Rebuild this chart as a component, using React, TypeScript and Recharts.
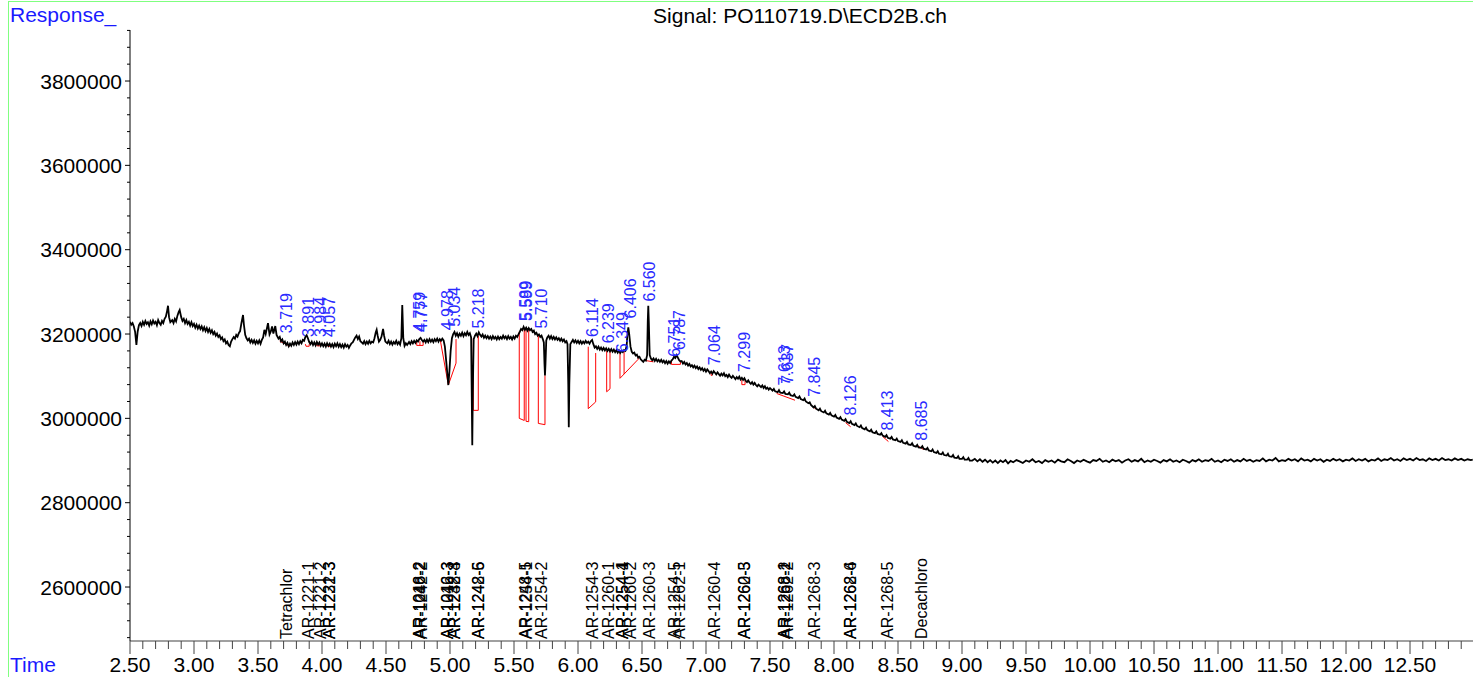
import React from "react";
import { ComposedChart, Line, Scatter, XAxis, YAxis } from "recharts";

const FONT = '"Liberation Sans", Arial, Helvetica, sans-serif';
const W = 1473;
const H = 677;

// axis labels
const timeLabels = [
  "2.50", "3.00", "3.50", "4.00", "4.50", "5.00", "5.50", "6.00", "6.50", "7.00", "7.50",
  "8.00", "8.50", "9.00", "9.50", "10.00", "10.50", "11.00", "11.50", "12.00", "12.50",
];
const responseLabels = [2600000, 2800000, 3000000, 3200000, 3400000, 3600000, 3800000];
const timeDomain: [number, number] = [2.5, 12.992];
const responseDomain: [number, number] = [2472000, 3921000];

// signal trace [min, response]
const traceEarly: [number, number][] = [
  [2.5, 3229000], [2.51, 3222000], [2.52, 3226000], [2.53, 3218000], [2.54, 3205000], [2.55, 3174000],
  [2.56, 3206000], [2.57, 3221000], [2.58, 3226000], [2.59, 3219000], [2.6, 3229000], [2.61, 3222000],
  [2.62, 3231000], [2.63, 3224000], [2.64, 3228000], [2.65, 3220000], [2.66, 3230000], [2.67, 3223000],
  [2.68, 3232000], [2.69, 3225000], [2.7, 3229000], [2.71, 3221000], [2.72, 3233000], [2.73, 3226000],
  [2.74, 3222000], [2.75, 3231000], [2.76, 3226000], [2.77, 3236000], [2.78, 3241000], [2.79, 3255000],
  [2.797, 3267000], [2.805, 3240000], [2.815, 3228000], [2.83, 3233000], [2.84, 3226000], [2.85, 3236000],
  [2.86, 3230000], [2.87, 3243000], [2.88, 3252000], [2.888, 3257000], [2.9, 3240000], [2.91, 3231000],
  [2.92, 3236000], [2.93, 3226000], [2.94, 3233000], [2.95, 3224000], [2.96, 3229000], [2.97, 3220000],
  [2.98, 3228000], [2.99, 3219000], [3.0, 3224000], [3.01, 3215000], [3.02, 3222000], [3.03, 3213000],
  [3.04, 3220000], [3.05, 3212000], [3.06, 3218000], [3.07, 3209000], [3.08, 3216000], [3.09, 3207000],
  [3.1, 3214000], [3.11, 3205000], [3.12, 3212000], [3.13, 3203000], [3.14, 3209000], [3.15, 3200000],
  [3.16, 3205000], [3.17, 3196000], [3.18, 3201000], [3.19, 3193000], [3.2, 3197000], [3.21, 3188000],
  [3.22, 3192000], [3.23, 3183000], [3.24, 3187000], [3.25, 3178000], [3.26, 3182000], [3.27, 3174000],
  [3.28, 3171000], [3.29, 3182000], [3.3, 3188000], [3.31, 3193000], [3.32, 3189000], [3.33, 3198000],
  [3.34, 3194000], [3.35, 3202000], [3.36, 3207000], [3.37, 3225000], [3.383, 3245000], [3.39, 3222000],
  [3.4, 3198000], [3.41, 3190000], [3.42, 3185000], [3.43, 3189000], [3.44, 3180000], [3.45, 3186000],
  [3.46, 3179000], [3.47, 3185000], [3.48, 3177000], [3.49, 3184000], [3.5, 3178000], [3.51, 3185000],
  [3.52, 3177000], [3.53, 3186000], [3.54, 3192000], [3.55, 3210000], [3.56, 3200000], [3.57, 3214000],
  [3.578, 3226000], [3.59, 3199000], [3.6, 3206000], [3.61, 3218000], [3.62, 3201000], [3.635, 3219000],
  [3.645, 3198000], [3.66, 3189000], [3.67, 3193000], [3.68, 3183000], [3.69, 3187000],
];

const traceMid: [number, number][] = [
  [3.7, 3178000], [3.71, 3182000], [3.72, 3174000], [3.73, 3179000], [3.74, 3171000], [3.75, 3177000],
  [3.76, 3172000], [3.77, 3180000], [3.78, 3174000], [3.79, 3181000], [3.8, 3175000], [3.81, 3182000],
  [3.82, 3176000], [3.83, 3183000], [3.84, 3178000], [3.85, 3186000], [3.86, 3184000], [3.87, 3193000],
  [3.88, 3197000], [3.89, 3190000], [3.9, 3181000], [3.91, 3176000], [3.92, 3182000], [3.93, 3174000],
  [3.94, 3180000], [3.95, 3173000], [3.96, 3181000], [3.97, 3175000], [3.98, 3180000], [3.99, 3172000],
  [4.0, 3178000], [4.01, 3171000], [4.02, 3177000], [4.03, 3170000], [4.04, 3178000], [4.05, 3172000],
  [4.06, 3177000], [4.07, 3170000], [4.08, 3176000], [4.09, 3169000], [4.1, 3177000], [4.11, 3171000],
  [4.12, 3178000], [4.13, 3170000], [4.14, 3176000], [4.15, 3169000], [4.16, 3175000], [4.17, 3168000],
  [4.18, 3176000], [4.19, 3170000], [4.2, 3174000], [4.21, 3167000], [4.22, 3173000], [4.23, 3178000],
  [4.24, 3180000], [4.25, 3186000], [4.26, 3192000], [4.27, 3196000], [4.28, 3188000], [4.29, 3194000],
  [4.3, 3183000], [4.31, 3180000], [4.32, 3177000], [4.33, 3183000], [4.34, 3176000], [4.35, 3182000],
  [4.36, 3177000], [4.37, 3184000], [4.38, 3178000], [4.39, 3182000], [4.4, 3180000], [4.41, 3190000],
  [4.42, 3204000], [4.427, 3210000], [4.435, 3196000], [4.445, 3182000], [4.455, 3186000], [4.465, 3194000],
  [4.477, 3212000], [4.485, 3196000], [4.495, 3182000], [4.51, 3178000], [4.52, 3184000], [4.53, 3176000],
  [4.54, 3182000], [4.55, 3175000], [4.56, 3181000], [4.57, 3177000], [4.58, 3184000], [4.59, 3176000],
  [4.6, 3181000], [4.61, 3175000], [4.62, 3190000], [4.627, 3269000], [4.635, 3190000], [4.645, 3172000],
  [4.655, 3178000], [4.665, 3174000], [4.68, 3181000], [4.69, 3176000], [4.7, 3183000], [4.71, 3178000],
  [4.72, 3184000], [4.73, 3179000], [4.74, 3185000], [4.75, 3182000], [4.76, 3188000], [4.77, 3191000],
  [4.78, 3186000], [4.79, 3182000], [4.8, 3186000], [4.81, 3180000], [4.82, 3187000], [4.83, 3181000],
  [4.84, 3188000], [4.85, 3182000], [4.86, 3187000], [4.87, 3181000], [4.88, 3188000], [4.89, 3183000],
  [4.9, 3189000], [4.91, 3182000], [4.92, 3188000], [4.93, 3184000], [4.94, 3189000], [4.95, 3185000],
  [4.96, 3170000], [4.975, 3120000], [4.987, 3079000], [4.995, 3110000],
];

const traceLate: [number, number][] = [
  [5.005, 3160000], [5.015, 3190000], [5.025, 3200000], [5.035, 3205000], [5.045, 3196000], [5.055, 3202000],
  [5.065, 3194000], [5.075, 3201000], [5.085, 3196000], [5.095, 3203000], [5.105, 3195000], [5.115, 3202000],
  [5.125, 3197000], [5.135, 3205000], [5.145, 3198000], [5.155, 3202000], [5.165, 3192000], [5.17, 3050000],
  [5.174, 2936000], [5.178, 3060000], [5.185, 3188000], [5.195, 3196000], [5.205, 3201000], [5.215, 3195000],
  [5.225, 3204000], [5.235, 3198000], [5.245, 3194000], [5.255, 3199000], [5.265, 3191000], [5.275, 3196000],
  [5.285, 3190000], [5.295, 3195000], [5.305, 3189000], [5.315, 3194000], [5.325, 3188000], [5.335, 3195000],
  [5.345, 3189000], [5.355, 3193000], [5.365, 3187000], [5.375, 3194000], [5.385, 3188000], [5.395, 3193000],
  [5.405, 3189000], [5.415, 3196000], [5.425, 3190000], [5.435, 3194000], [5.445, 3188000], [5.455, 3195000],
  [5.465, 3189000], [5.475, 3193000], [5.485, 3187000], [5.495, 3194000], [5.505, 3189000], [5.515, 3196000],
  [5.525, 3193000], [5.535, 3199000], [5.545, 3205000], [5.555, 3212000], [5.565, 3209000], [5.575, 3217000],
  [5.585, 3210000], [5.595, 3215000], [5.605, 3208000], [5.615, 3214000], [5.625, 3209000], [5.635, 3212000],
  [5.645, 3205000], [5.655, 3208000], [5.665, 3200000], [5.675, 3203000], [5.685, 3196000], [5.695, 3199000],
  [5.705, 3193000], [5.715, 3196000], [5.725, 3188000], [5.733, 3180000], [5.738, 3130000], [5.742, 3102000],
  [5.746, 3130000], [5.752, 3185000], [5.76, 3192000], [5.77, 3196000], [5.78, 3189000], [5.79, 3195000],
  [5.8, 3188000], [5.81, 3193000], [5.82, 3187000], [5.83, 3192000], [5.84, 3186000], [5.85, 3190000],
  [5.86, 3184000], [5.87, 3189000], [5.88, 3183000], [5.89, 3187000], [5.9, 3180000], [5.91, 3183000],
  [5.918, 3176000], [5.924, 3080000], [5.928, 2979000], [5.932, 3080000], [5.94, 3176000], [5.95, 3181000],
  [5.96, 3186000], [5.97, 3180000], [5.98, 3185000], [5.99, 3179000], [6.0, 3184000], [6.01, 3178000],
  [6.02, 3183000], [6.03, 3177000], [6.04, 3182000], [6.05, 3178000], [6.06, 3184000], [6.07, 3179000],
  [6.08, 3182000], [6.09, 3177000], [6.1, 3183000], [6.11, 3186000], [6.12, 3176000], [6.13, 3168000],
  [6.14, 3171000], [6.15, 3165000], [6.16, 3170000], [6.17, 3163000], [6.18, 3168000], [6.19, 3162000],
  [6.2, 3167000], [6.21, 3161000], [6.22, 3166000], [6.23, 3160000], [6.24, 3165000], [6.25, 3159000],
  [6.26, 3164000], [6.27, 3158000], [6.28, 3163000], [6.29, 3157000], [6.3, 3162000], [6.31, 3156000],
  [6.32, 3161000], [6.33, 3155000], [6.34, 3160000], [6.35, 3157000], [6.36, 3162000], [6.37, 3160000],
  [6.38, 3172000], [6.385, 3195000], [6.393, 3216000], [6.4, 3200000], [6.41, 3170000], [6.42, 3158000],
  [6.43, 3154000], [6.44, 3156000], [6.45, 3149000], [6.46, 3151000], [6.47, 3144000], [6.48, 3146000],
  [6.49, 3140000], [6.5, 3137000], [6.51, 3134000], [6.52, 3139000], [6.53, 3137000], [6.54, 3150000],
  [6.545, 3230000], [6.549, 3267000], [6.553, 3230000], [6.56, 3150000], [6.57, 3142000], [6.58, 3138000],
  [6.59, 3142000],
];

const traceSlope: [number, number][] = [
  [6.6, 3136000], [6.61, 3141000], [6.62, 3135000], [6.63, 3139000], [6.64, 3134000], [6.65, 3139000],
  [6.66, 3133000], [6.67, 3137000], [6.68, 3131000], [6.69, 3136000], [6.7, 3130000], [6.71, 3135000],
  [6.72, 3131000], [6.73, 3137000], [6.74, 3140000], [6.75, 3146000], [6.76, 3143000], [6.77, 3150000],
  [6.78, 3144000], [6.79, 3138000], [6.8, 3135000], [6.81, 3136000], [6.82, 3130000], [6.83, 3134000],
  [6.84, 3128000], [6.85, 3131000], [6.86, 3125000], [6.87, 3129000], [6.88, 3123000], [6.89, 3126000],
  [6.9, 3121000], [6.91, 3125000], [6.92, 3119000], [6.93, 3123000], [6.94, 3117000], [6.95, 3121000],
  [6.96, 3115000], [6.97, 3119000], [6.98, 3113000], [6.99, 3117000], [7.0, 3111000], [7.01, 3116000],
  [7.02, 3112000], [7.03, 3107000], [7.04, 3111000], [7.05, 3106000], [7.06, 3112000], [7.07, 3108000],
  [7.08, 3104000], [7.09, 3109000], [7.1, 3105000], [7.11, 3101000], [7.12, 3106000], [7.13, 3102000],
  [7.14, 3107000], [7.15, 3100000], [7.16, 3103000], [7.17, 3098000], [7.18, 3104000], [7.19, 3099000],
  [7.2, 3096000], [7.21, 3101000], [7.22, 3097000], [7.23, 3093000], [7.24, 3098000], [7.25, 3094000],
  [7.26, 3099000], [7.27, 3092000], [7.28, 3096000], [7.29, 3091000], [7.3, 3095000], [7.31, 3089000],
  [7.32, 3086000], [7.33, 3090000], [7.34, 3085000], [7.35, 3082000], [7.36, 3086000], [7.37, 3080000],
  [7.38, 3084000], [7.39, 3079000], [7.4, 3076000], [7.41, 3080000], [7.42, 3077000], [7.43, 3074000],
  [7.44, 3078000], [7.45, 3072000], [7.46, 3076000], [7.47, 3070000], [7.48, 3073000], [7.49, 3068000],
  [7.5, 3072000], [7.52, 3066000], [7.53, 3070000], [7.54, 3064000], [7.56, 3062000], [7.57, 3067000],
  [7.58, 3061000], [7.6, 3060000], [7.61, 3064000], [7.62, 3058000], [7.64, 3057000], [7.65, 3061000],
  [7.66, 3055000], [7.68, 3053000], [7.69, 3057000], [7.7, 3051000], [7.72, 3048000], [7.73, 3052000],
  [7.74, 3046000], [7.76, 3043000], [7.77, 3047000], [7.78, 3040000], [7.8, 3036000], [7.81, 3038000],
  [7.82, 3032000], [7.84, 3026000], [7.85, 3029000], [7.86, 3023000], [7.88, 3019000], [7.89, 3023000],
  [7.9, 3017000], [7.92, 3014000], [7.93, 3018000], [7.94, 3012000], [7.96, 3009000], [7.97, 3013000],
  [7.98, 3007000], [8.0, 3004000], [8.01, 3008000], [8.02, 3002000], [8.04, 2999000], [8.05, 3003000],
  [8.06, 2997000], [8.08, 2994000], [8.09, 2998000], [8.1, 2992000], [8.12, 2989000], [8.13, 2993000],
  [8.14, 2987000], [8.16, 2984000], [8.17, 2988000], [8.18, 2982000], [8.2, 2979000], [8.21, 2983000],
  [8.22, 2977000], [8.24, 2974000], [8.25, 2978000], [8.26, 2972000], [8.28, 2969000], [8.29, 2973000],
  [8.3, 2967000], [8.32, 2965000], [8.33, 2969000], [8.34, 2963000], [8.36, 2961000], [8.37, 2965000],
  [8.38, 2959000], [8.4, 2956000], [8.41, 2960000], [8.42, 2954000], [8.44, 2952000], [8.45, 2956000],
  [8.46, 2950000], [8.48, 2948000], [8.49, 2952000], [8.5, 2946000], [8.52, 2944000], [8.53, 2948000],
  [8.54, 2942000], [8.56, 2940000], [8.57, 2944000], [8.58, 2938000], [8.6, 2937000], [8.61, 2941000],
  [8.62, 2935000], [8.64, 2933000], [8.65, 2937000], [8.66, 2931000], [8.68, 2930000], [8.69, 2934000],
  [8.7, 2928000], [8.72, 2926000], [8.73, 2930000], [8.74, 2924000], [8.76, 2922000], [8.77, 2926000],
  [8.78, 2920000], [8.8, 2918000], [8.81, 2922000], [8.82, 2916000], [8.84, 2915000], [8.85, 2919000],
  [8.86, 2913000], [8.88, 2912000], [8.89, 2916000], [8.9, 2910000], [8.92, 2909000], [8.93, 2913000],
  [8.94, 2907000], [8.96, 2906000], [8.97, 2910000], [8.98, 2904000], [9.0, 2904000], [9.01, 2908000],
  [9.02, 2902000], [9.04, 2902000], [9.05, 2906000], [9.06, 2900000], [9.08, 2900000], [9.1, 2904000],
  [9.12, 2898000], [9.14, 2903000], [9.16, 2897000], [9.18, 2902000], [9.2, 2896000], [9.22, 2901000],
  [9.24, 2895000], [9.26, 2900000], [9.28, 2894000], [9.3, 2900000], [9.32, 2896000], [9.34, 2901000],
  [9.36, 2893000], [9.38, 2899000],
];

const traceTail: [number, number][] = [
  [9.4, 2896000], [9.425, 2901000], [9.45, 2898000], [9.475, 2894000], [9.5, 2900000], [9.525, 2897000],
  [9.55, 2903000], [9.575, 2896000], [9.6, 2899000], [9.625, 2894000], [9.65, 2901000], [9.675, 2897000],
  [9.7, 2900000], [9.725, 2895000], [9.75, 2902000], [9.775, 2898000], [9.8, 2896000], [9.825, 2903000],
  [9.85, 2899000], [9.875, 2894000], [9.9, 2900000], [9.925, 2897000], [9.95, 2902000], [9.975, 2898000],
  [10.0, 2895000], [10.025, 2901000], [10.05, 2899000], [10.075, 2904000], [10.1, 2897000], [10.125, 2900000],
  [10.15, 2896000], [10.175, 2902000], [10.2, 2898000], [10.225, 2901000], [10.25, 2895000], [10.275, 2900000],
  [10.3, 2903000], [10.325, 2897000], [10.35, 2901000], [10.375, 2898000], [10.4, 2904000], [10.425, 2896000],
  [10.45, 2900000], [10.475, 2897000], [10.5, 2902000], [10.525, 2899000], [10.55, 2895000], [10.575, 2901000],
  [10.6, 2898000], [10.625, 2903000], [10.65, 2897000], [10.675, 2900000], [10.7, 2896000], [10.725, 2902000],
  [10.75, 2899000], [10.775, 2895000], [10.8, 2901000], [10.825, 2898000], [10.85, 2903000], [10.875, 2897000],
  [10.9, 2901000], [10.925, 2899000], [10.95, 2904000], [10.975, 2897000], [11.0, 2900000], [11.025, 2896000],
  [11.05, 2902000], [11.075, 2899000], [11.1, 2903000], [11.125, 2897000], [11.15, 2901000], [11.175, 2898000],
  [11.2, 2904000], [11.225, 2899000], [11.25, 2902000], [11.275, 2897000], [11.3, 2901000], [11.325, 2899000],
  [11.35, 2905000], [11.375, 2898000], [11.4, 2902000], [11.425, 2900000], [11.45, 2906000], [11.475, 2898000],
  [11.5, 2901000], [11.525, 2899000], [11.55, 2904000], [11.575, 2900000], [11.6, 2903000], [11.625, 2898000],
  [11.65, 2905000], [11.675, 2900000], [11.7, 2902000], [11.725, 2898000], [11.75, 2904000], [11.775, 2900000],
  [11.8, 2903000], [11.825, 2897000], [11.85, 2902000], [11.875, 2899000], [11.9, 2904000], [11.925, 2900000],
  [11.95, 2903000], [11.975, 2898000], [12.0, 2902000], [12.025, 2900000], [12.05, 2905000], [12.075, 2899000],
  [12.1, 2903000], [12.125, 2900000], [12.15, 2904000], [12.175, 2898000], [12.2, 2902000], [12.225, 2900000],
  [12.25, 2905000], [12.275, 2899000], [12.3, 2903000], [12.325, 2901000], [12.35, 2906000], [12.375, 2900000],
  [12.4, 2903000], [12.425, 2899000], [12.45, 2905000], [12.475, 2901000], [12.5, 2904000], [12.525, 2900000],
  [12.55, 2906000], [12.575, 2901000], [12.6, 2903000], [12.625, 2899000], [12.65, 2905000], [12.675, 2901000],
  [12.7, 2904000], [12.725, 2900000], [12.75, 2906000], [12.775, 2901000], [12.8, 2903000], [12.825, 2900000],
  [12.85, 2905000], [12.875, 2901000], [12.9, 2904000], [12.925, 2900000], [12.95, 2903000], [12.975, 2901000],
  [12.99, 2902000],
];

// integration baselines drawn in red
const baselines: [number, number][][] = [
  [[3.67, 3183000], [3.75, 3171000]],
  [[3.87, 3176000], [3.875, 3171000], [3.9, 3171000], [3.9, 3176000]],
  [[3.96, 3178000], [3.96, 3172000], [3.985, 3172000], [3.985, 3178000]],
  [[4.04, 3176000], [4.045, 3171000], [4.065, 3171000], [4.065, 3176000]],
  [[4.74, 3183000], [4.74, 3173000], [4.79, 3173000], [4.79, 3183000]],
  [[4.765, 3183000], [4.765, 3173000]],
  [[4.925, 3184000], [4.987, 3079000], [5.047, 3131000], [5.047, 3188000]],
  [[5.182, 3190000], [5.182, 3019000], [5.221, 3019000], [5.221, 3196000]],
  [[5.541, 3206000], [5.541, 3000000], [5.58, 2995000], [5.58, 3214000]],
  [[5.594, 3214000], [5.594, 2993000], [5.615, 2992000], [5.615, 3212000]],
  [[5.69, 3200000], [5.69, 2988000], [5.742, 2985000], [5.742, 3102000]],
  [[6.08, 3170000], [6.08, 3023000], [6.138, 3039000], [6.138, 3155000]],
  [[6.224, 3160000], [6.224, 3063000], [6.25, 3070000], [6.25, 3159000]],
  [[6.328, 3155000], [6.328, 3095000], [6.47, 3140000], [6.47, 3146000]],
  [[6.36, 3162000], [6.36, 3105000]],
  [[6.53, 3137000], [6.59, 3134000]],
  [[6.73, 3137000], [6.73, 3128000], [6.8, 3128000], [6.8, 3135000]],
  [[7.04, 3108000], [7.04, 3102000], [7.05, 3102000]],
  [[7.28, 3091000], [7.28, 3080000], [7.305, 3080000], [7.305, 3092000]],
  [[7.552, 3059000], [7.695, 3043000]],
  [[7.84, 3029000], [7.855, 3022000]],
  [[8.09, 2990000], [8.13, 2980000]],
  [[8.38, 2957000], [8.425, 2945000]],
  [[8.66, 2934000], [8.7, 2926000]],
];

// retention time labels and the response level their text starts at
const peakTimes = [
  "3.719", "3.891", "3.984", "4.057", "4.759", "4.777", "4.978", "5.034", "5.218", "5.589", "5.599",
  "5.710", "6.114", "6.239", "6.349", "6.406", "6.560", "6.751", "6.787", "7.064", "7.299", "7.613",
  "7.637", "7.845", "8.126", "8.413", "8.685",
];
const peakLabelLevels = [
  3202000, 3193000, 3193000, 3193000, 3205000, 3205000, 3209000, 3217000, 3213000, 3231000, 3231000,
  3213000, 3193000, 3178000, 3157000, 3237000, 3277000, 3146000, 3162000, 3126000, 3110000, 3078000,
  3082000, 3051000, 3007000, 2971000, 2947000,
];

// compound names printed along the time axis
const compounds: [string, number][] = [
  ["Tetrachlor", 3.719], ["AR-1221-1", 3.891], ["AR-1221-2", 3.984], ["AR-1232-3", 4.057],
  ["AR-1221-3", 4.057], ["AR-1248-2", 4.759], ["AR-1242-2", 4.777], ["AR-1016-2", 4.759],
  ["AR-1242-3", 4.978], ["AR-1016-3", 4.978], ["AR-1248-3", 5.034], ["AR-1232-4", 5.034],
  ["AR-1248-6", 5.218], ["AR-1242-5", 5.218], ["AR-1248-5", 5.589], ["AR-1254-1", 5.599],
  ["AR-1254-2", 5.71], ["AR-1254-3", 6.114], ["AR-1260-1", 6.239], ["AR-1254-4", 6.349],
  ["AR-1254-1", 6.349], ["AR-1260-2", 6.406], ["AR-1260-3", 6.56], ["AR-1254-5", 6.751],
  ["AR-1262-1", 6.787], ["AR-1260-4", 7.064], ["AR-1260-5", 7.299], ["AR-1262-3", 7.299],
  ["AR-1268-1", 7.613], ["AR-1268-2", 7.613], ["AR-1262-2", 7.637], ["AR-1268-3", 7.845],
  ["AR-1262-6", 8.126], ["AR-1268-4", 8.126], ["AR-1268-5", 8.413], ["Decachloro", 8.685],
];

const trace = [...traceEarly, ...traceMid, ...traceLate, ...traceSlope, ...traceTail].map(([t, v]) => ({ t, v }));
const peakData = peakTimes.map((label, i) => ({ t: parseFloat(label), v: peakLabelLevels[i], label }));
const compoundData = compounds.map(([label, t]) => ({ t, v: responseDomain[0], label }));

const timeTicks: number[] = [];
for (let i = 0; i <= 104; i++) timeTicks.push(Math.round((2.5 + i * 0.1) * 10) / 10);
const responseTicks: number[] = [];
for (let v = 2480000; v <= 3920000; v += 40000) responseTicks.push(v);

function TimeTick({ x, y, payload }: any) {
  const label = payload.value.toFixed(2);
  const major = timeLabels.includes(label);
  return (
    <g>
      <line x1={x} x2={x} y1={y} y2={y + (major ? 13 : 8)} stroke="#444" strokeWidth={1} />
      {major && (
        <text x={x} y={y + 31} textAnchor="middle" fontSize={21} fontFamily={FONT} fill="#000">
          {label}
        </text>
      )}
    </g>
  );
}

function ResponseTick({ x, y, payload }: any) {
  const major = responseLabels.includes(payload.value);
  return (
    <g>
      <line x1={x - (major ? 5 : 3)} x2={x} y1={y} y2={y} stroke="#000" strokeWidth={1} />
      {major && (
        <text x={x - 8} y={y + 7.5} textAnchor="end" fontSize={21} fontFamily={FONT} fill="#000">
          {payload.value}
        </text>
      )}
    </g>
  );
}

function PeakLabel({ cx, cy, payload }: any) {
  return (
    <text transform={`translate(${cx},${cy}) rotate(-90)`} dy="0.36em" fontSize={16} fontFamily={FONT} fill="#2a2aff">
      {payload.label}
    </text>
  );
}

function CompoundLabel({ cx, cy, payload }: any) {
  return (
    <text transform={`translate(${cx},${cy - 2}) rotate(-90)`} dy="0.36em" fontSize={16} fontFamily={FONT} fill="#000">
      {payload.label}
    </text>
  );
}

export default function App() {
  return (
    <div style={{ position: "absolute", left: 0, top: 0, width: W, height: H, background: "#fff" }}>
      <ComposedChart width={W} height={H} margin={{ top: 30, right: 0, bottom: 0, left: 0 }}>
        <XAxis
          type="number"
          dataKey="t"
          domain={timeDomain}
          allowDataOverflow
          ticks={timeTicks}
          interval={0}
          tick={<TimeTick />}
          tickLine={false}
          tickSize={0}
          tickMargin={0}
          height={36}
          axisLine={{ stroke: "#808080", strokeWidth: 1.5 }}
        />
        <YAxis
          type="number"
          dataKey="v"
          domain={responseDomain}
          allowDataOverflow
          ticks={responseTicks}
          interval={0}
          tick={<ResponseTick />}
          tickLine={false}
          tickSize={0}
          tickMargin={0}
          width={130}
          axisLine={{ stroke: "#000", strokeWidth: 1 }}
        />
        {baselines.map((pts, i) => (
          <Line
            key={`b${i}`}
            data={pts.map(([t, v]) => ({ t, v }))}
            dataKey="v"
            type="linear"
            stroke="#ff0000"
            strokeWidth={1}
            dot={false}
            activeDot={false}
            isAnimationActive={false}
          />
        ))}
        <Line
          data={trace}
          dataKey="v"
          type="linear"
          stroke="#000"
          strokeWidth={1.8}
          dot={false}
          activeDot={false}
          isAnimationActive={false}
        />
        <Scatter data={peakData} dataKey="v" shape={<PeakLabel />} isAnimationActive={false} />
        <Scatter data={compoundData} dataKey="v" shape={<CompoundLabel />} isAnimationActive={false} />
      </ComposedChart>
      <svg width={W} height={H} style={{ position: "absolute", left: 0, top: 0, pointerEvents: "none" }}>
        <line x1={8} x2={W} y1={1.5} y2={1.5} stroke="#80ff80" strokeWidth={1} />
        <line x1={8.5} x2={8.5} y1={1} y2={H} stroke="#80ff80" strokeWidth={1} />
        <text x={10} y={22} fontSize={21} fontFamily={FONT} fill="#1a1aff">
          Response_
        </text>
        <text x={800} y={23} textAnchor="middle" fontSize={21} fontFamily={FONT} fill="#000">
          {"Signal: PO110719.D\\ECD2B.ch"}
        </text>
        <text x={10} y={672} fontSize={21} fontFamily={FONT} fill="#1a1aff">
          Time
        </text>
      </svg>
    </div>
  );
}
